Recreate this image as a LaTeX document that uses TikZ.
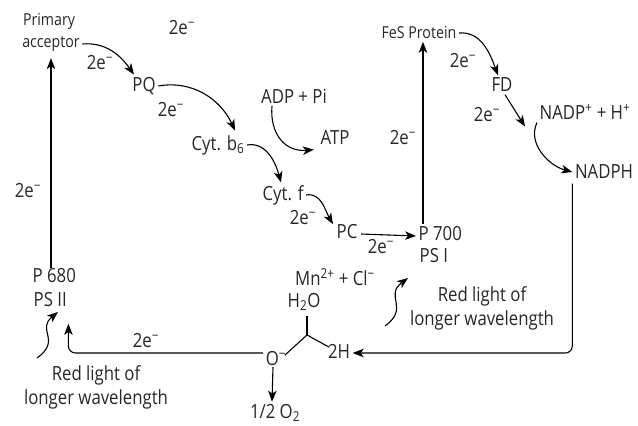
\documentclass[tikz,border=0pt]{standalone}
\usepackage{fontspec}
\setmainfont{Open Sans}[FakeStretch=0.86]
\usetikzlibrary{arrows.meta}
\definecolor{txt}{RGB}{40,38,38}
\newcommand\twoe{2e\textsuperscript{−}}
\begin{document}
\begin{tikzpicture}[x=1pt,y=1pt,font=\fontsize{19.5}{24}\selectfont,
  every node/.style={text=txt,inner sep=2.5pt},
  small/.style={font=\fontsize{16.5}{19}\selectfont},
  arr/.style={-{Stealth[length=11pt,width=8.5pt,inset=3pt]},line width=1.1pt},
  ln/.style={line width=1.1pt}]
\useasboundingbox (0,0) rectangle (638,-426);
% carriers of the upper chain
\node[small] (prim) at (49,-21) {Primary};
\node[small] (acc) at (51,-44) {acceptor};
\node (pq) at (144,-86) {PQ};
\node (cytb) at (218,-145) {Cyt. b\textsubscript{6}};
\node (cytf) at (283,-195) {Cyt. f};
\node (pc) at (347,-232) {PC};
\node[anchor=west] (p700) at (416,-234) {P 700};
\node[anchor=west] (psi) at (417,-256) {PS I};
\node[small] (fes) at (419,-33) {FeS Protein};
\node (fd) at (502,-85) {FD};
\node (nadp) at (585,-112) {NADP\textsuperscript{+} + H\textsuperscript{+}};
\node (nadph) at (604,-172) {NADPH};
\node (adp) at (294,-96) {ADP + Pi};
\node (atp) at (335,-138) {ATP};
% photosystem II and water splitting
\node[anchor=west] (p680) at (30,-276) {P 680};
\node[anchor=west] (psii) at (31,-300) {PS II};
\node (mn) at (335,-277) {Mn\textsuperscript{2+} + Cl\textsuperscript{−}};
\node (h2o) at (304,-302) {H\textsubscript{2}O};
\node (o) at (276,-359) {O\textsuperscript{−}};
\node (twoh) at (339,-351) {2H};
\node (o2) at (275,-413) {1/2 O\textsubscript{2}};
\node[align=center] (red1) at (96,-387) {Red light of\\longer wavelength};
\node[align=center] (red2) at (482,-308) {Red light of\\longer wavelength};
% electron labels
\foreach \x/\y in {182/28,100/63,171/110,303/218,381/247,403/138,463/61,487/115,28/191,146/341}
  \node at (\x,-\y) {\twoe};
% electron path
\draw[arr] (acc.east) to[out=5,in=125] ([xshift=-10pt]pq.north);
\draw[arr] (pq.east) to[out=10,in=115] ([xshift=-12pt,yshift=2pt]cytb.north east);
\draw[arr] (cytb.east) to[out=10,in=105] ([xshift=-2pt]cytf.north);
\draw[arr] (cytf.east) to[out=10,in=120] ([xshift=-1pt,yshift=-2pt]pc.north west);
\draw[arr] ([xshift=1pt,yshift=-2pt]pc.east) -- ([yshift=-2pt]p700.west);
\draw[arr] ([xshift=7pt]p700.north west) -- ([xshift=7pt]p700.north west |- fes.south);
\draw[arr] (fes.east) to[out=5,in=110] ([xshift=-4pt]fd.north);
\draw[arr] ([xshift=3pt]fd.south) -- ([xshift=-60pt,yshift=-4pt]nadp.south);
\draw[arr] ([xshift=-48pt]nadp.south) to[out=-115,in=165] (nadph.west);
\draw[arr] ([xshift=-22pt]adp.south) to[out=-95,in=185,looseness=1.2] ([xshift=-4pt,yshift=-2pt]atp.south west);
\draw[arr] ([yshift=-2pt]acc.south |- p680.north) -- ([yshift=-4pt]acc.south);
\draw[arr,rounded corners=7pt] ([xshift=0pt,yshift=-2pt]nadph.south west) |- ([yshift=-2pt]twoh.east);
% water
\coordinate (jn) at (307,-335);
\draw[ln] ([xshift=-4pt,yshift=-6pt]o.north east) -- (jn) -- ([xshift=4pt,yshift=-6pt]twoh.north west);
\draw[ln] (jn) -- ([yshift=-3pt]jn |- h2o.south);
\draw[arr] ([xshift=-3pt,yshift=2pt]o.south) -- ([xshift=-3pt]o2.north);
\draw[arr,rounded corners=7pt] ([yshift=6pt]o.west) -| ([xshift=-1pt,yshift=-14pt]psii.south east);
% light
\coordinate (l1) at (37,-358); \coordinate (l2) at (58,-312);
\coordinate (r1) at (385,-326); \coordinate (r2) at (408,-278);
\draw[arr] (l1) .. controls (62,-340) and (36,-330) .. (l2);
\draw[arr] (r1) .. controls (410,-308) and (384,-296) .. (r2);
\end{tikzpicture}
\end{document}
